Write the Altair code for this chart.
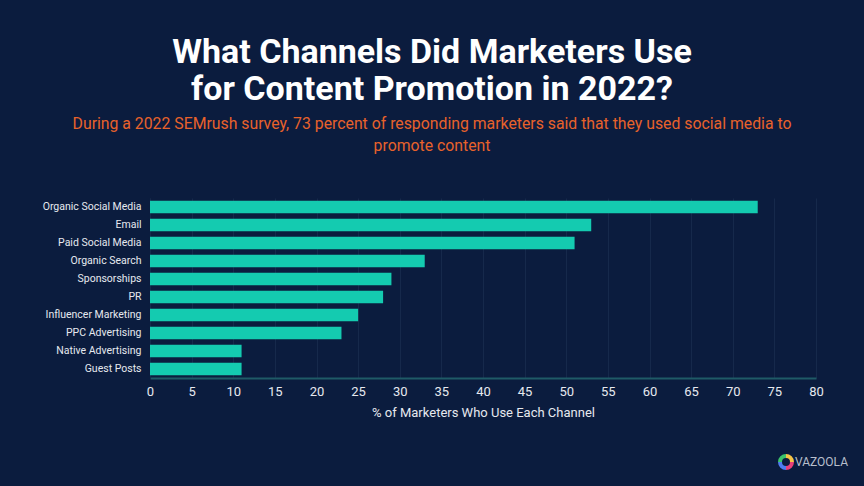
import altair as alt
import pandas as pd

channels = ["Organic Social Media", "Email", "Paid Social Media", "Organic Search",
            "Sponsorships", "PR", "Influencer Marketing", "PPC Advertising",
            "Native Advertising", "Guest Posts"]
values = [73, 53, 51, 33, 29, 28, 25, 23, 11, 11]
x_ticks = list(range(0, 81, 5))

logo_parts = ["a", "b", "c", "d"]
logo_colors = ["#f6c445", "#e9407a", "#4f7cf0", "#3cc46b"]

df = pd.DataFrame({"channel": channels, "pct": values})

BG = "#0b1c3e"
FONT = "Roboto"

bars = alt.Chart(df).mark_bar(color="#14cbb0").encode(
    x=alt.X("pct:Q", scale=alt.Scale(domain=[0, 80], nice=False),
            axis=alt.Axis(values=x_ticks, title="% of Marketers Who Use Each Channel",
                          labelColor="#e6e9ef", labelFontSize=13, labelFont=FONT,
                          labelFlush=False,
                          titleColor="#e6e9ef", titleFontSize=13, titleFont=FONT,
                          titleFontWeight="normal", titlePadding=8,
                          labelPadding=7, ticks=False,
                          domain=True, domainColor="#1f5a66", domainWidth=2,
                          grid=True, gridColor="#16294b", gridWidth=1)),
    y=alt.Y("channel:N", sort=channels,
            scale=alt.Scale(paddingInner=0.3, paddingOuter=0.15),
            axis=alt.Axis(title=None, labelColor="#e6e9ef", labelFontSize=10.5,
                          labelFont=FONT, labelPadding=9, ticks=False,
                          domain=True, domainColor="#16294b", grid=False)),
)

logo_ring = alt.Chart(pd.DataFrame({"part": logo_parts, "v": [1, 1, 1, 1]})).mark_arc(
    innerRadius=4, outerRadius=8
).encode(
    theta=alt.Theta("v:Q"),
    color=alt.Color("part:N", scale=alt.Scale(domain=logo_parts, range=logo_colors), legend=None),
    x=alt.value(636), y=alt.value(264),
)

logo_text = alt.Chart(pd.DataFrame({"t": ["VAZOOLA"]})).mark_text(
    align="left", baseline="middle", fontSize=12, font=FONT, color="#b8bfcc"
).encode(text="t:N", x=alt.value(645), y=alt.value(264))

chart = alt.layer(bars, logo_ring, logo_text).properties(
    width=666, height=180,
    background=BG,
    padding={"left": 142, "top": 190, "right": 40, "bottom": 100},
    autosize=alt.AutoSizeParams(type="none"),
    title=alt.TitleParams(
        text=["What Channels Did Marketers Use", "for Content Promotion in 2022?"],
        subtitle=["During a 2022 SEMrush survey, 73 percent of responding marketers said that they used social media to",
                  "promote content"],
        anchor="middle", dx=-51, offset=44,
        font=FONT, fontSize=34, fontWeight="bold", color="#ffffff", lineHeight=37,
        subtitleFont=FONT, subtitleFontSize=15.8, subtitleColor="#e8622b",
        subtitleLineHeight=22, subtitlePadding=10,
    ),
).configure_view(stroke=None)

chart.save("out.html", embed_options={"renderer": "svg", "actions": False,
                                      "defaultStyle": "body{background:#0b1c3e;}"})
